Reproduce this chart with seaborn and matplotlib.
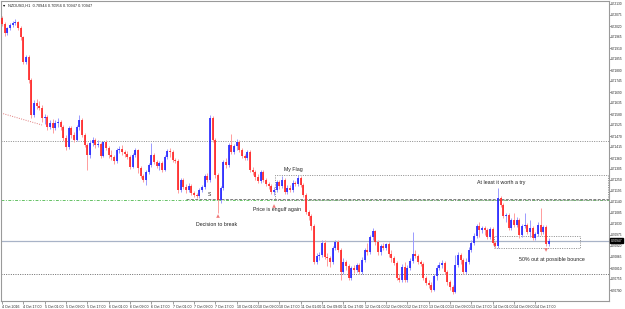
import numpy as np
import pandas as pd
import matplotlib
matplotlib.use("Agg")
import matplotlib.pyplot as plt
import matplotlib.transforms as mtransforms
from matplotlib.patches import Rectangle
import seaborn as sns

# ---------------- data (NZDUSD, H1) ----------------
open0 = 0.72060
closes = [
    0.72030, 0.71985, 0.72010, 0.72025, 0.72035, 0.72040, 0.72010, 0.71965, 0.71840, 0.71865,
    0.71750, 0.71575, 0.71635, 0.71620, 0.71610, 0.71560, 0.71565, 0.71515, 0.71535, 0.71510,
    0.71535, 0.71540, 0.71515, 0.71460, 0.71415, 0.71510, 0.71475, 0.71450, 0.71515, 0.71550,
    0.71475, 0.71425, 0.71375, 0.71435, 0.71450, 0.71425, 0.71430, 0.71370, 0.71440, 0.71410,
    0.71375, 0.71365, 0.71345, 0.71400, 0.71405, 0.71390, 0.71380, 0.71365, 0.71315, 0.71375,
    0.71400, 0.71310, 0.71270, 0.71250, 0.71290, 0.71325, 0.71375, 0.71340, 0.71320, 0.71335,
    0.71300, 0.71365, 0.71395, 0.71390, 0.71350, 0.71345, 0.71200, 0.71250, 0.71215, 0.71200,
    0.71220, 0.71185, 0.71175, 0.71170, 0.71200, 0.71215, 0.71270, 0.71250, 0.71560, 0.71450,
    0.71275, 0.71150, 0.71210, 0.71340, 0.71325, 0.71425, 0.71390, 0.71420, 0.71440, 0.71400,
    0.71370, 0.71360, 0.71390, 0.71300, 0.71290, 0.71265, 0.71245, 0.71290, 0.71250, 0.71230,
    0.71220, 0.71190, 0.71200, 0.71240, 0.71220, 0.71250, 0.71190, 0.71210, 0.71200, 0.71235,
    0.71230, 0.71260, 0.71225, 0.71175, 0.71090, 0.71070, 0.71020, 0.70840, 0.70870, 0.70875,
    0.70935, 0.70865, 0.70860, 0.70840, 0.70910, 0.70940, 0.70900, 0.70790, 0.70840, 0.70820,
    0.70760, 0.70810, 0.70800, 0.70825, 0.70790, 0.70850, 0.70900, 0.70890, 0.70965, 0.70995,
    0.70940, 0.70890, 0.70920, 0.70910, 0.70930, 0.70880, 0.70860, 0.70835, 0.70760, 0.70750,
    0.70815, 0.70750, 0.70810, 0.70845, 0.70880, 0.70870, 0.70840, 0.70830, 0.70760, 0.70735,
    0.70725, 0.70700, 0.70770, 0.70810, 0.70825, 0.70835, 0.70790, 0.70740, 0.70715, 0.70690,
    0.70825, 0.70875, 0.70850, 0.70790, 0.70840, 0.70900, 0.70935, 0.70970, 0.71020, 0.71000,
    0.71010, 0.71000, 0.70965, 0.71005, 0.70935, 0.70920, 0.71160, 0.71125, 0.71070, 0.71075,
    0.71010, 0.71050, 0.71025, 0.71050, 0.70975, 0.71020, 0.71025, 0.70990, 0.71010, 0.70960,
    0.70980, 0.71025, 0.70990, 0.71015, 0.70930, 0.70947,
]
highs = [
    0.72070, 0.72040, 0.72015, 0.72035, 0.72045, 0.72055, 0.72045, 0.72020, 0.71970, 0.71875,
    0.71875, 0.71760, 0.71650, 0.71655, 0.71645, 0.71625, 0.71580, 0.71575, 0.71550, 0.71555,
    0.71550, 0.71560, 0.71550, 0.71525, 0.71475, 0.71520, 0.71520, 0.71490, 0.71525, 0.71575,
    0.71560, 0.71485, 0.71435, 0.71450, 0.71465, 0.71460, 0.71450, 0.71440, 0.71445, 0.71450,
    0.71420, 0.71400, 0.71375, 0.71410, 0.71420, 0.71425, 0.71400, 0.71395, 0.71375, 0.71385,
    0.71410, 0.71405, 0.71320, 0.71280, 0.71300, 0.71335, 0.71435, 0.71385, 0.71350, 0.71345,
    0.71345, 0.71375, 0.71405, 0.71410, 0.71400, 0.71360, 0.71355, 0.71260, 0.71260, 0.71230,
    0.71235, 0.71230, 0.71195, 0.71185, 0.71210, 0.71225, 0.71280, 0.71285, 0.71575, 0.71570,
    0.71460, 0.71285, 0.71220, 0.71350, 0.71360, 0.71435, 0.71480, 0.71430, 0.71455, 0.71450,
    0.71410, 0.71380, 0.71400, 0.71400, 0.71315, 0.71300, 0.71280, 0.71300, 0.71300, 0.71260,
    0.71240, 0.71230, 0.71215, 0.71250, 0.71250, 0.71270, 0.71260, 0.71225, 0.71225, 0.71250,
    0.71245, 0.71275, 0.71270, 0.71235, 0.71185, 0.71100, 0.71080, 0.71030, 0.70885, 0.70890,
    0.70950, 0.70950, 0.70885, 0.70870, 0.70920, 0.70950, 0.70950, 0.70910, 0.70860, 0.70850,
    0.70830, 0.70820, 0.70825, 0.70835, 0.70835, 0.70865, 0.70910, 0.70935, 0.70975, 0.71010,
    0.71000, 0.70950, 0.70930, 0.70935, 0.70935, 0.70940, 0.70900, 0.70870, 0.70845, 0.70780,
    0.70830, 0.70840, 0.70825, 0.70860, 0.70990, 0.70900, 0.70880, 0.70850, 0.70840, 0.70770,
    0.70750, 0.70740, 0.70780, 0.70825, 0.70840, 0.70850, 0.70845, 0.70800, 0.70750, 0.70725,
    0.70875, 0.70890, 0.70885, 0.70860, 0.70860, 0.70915, 0.70950, 0.70985, 0.71030, 0.71040,
    0.71020, 0.71020, 0.71010, 0.71015, 0.71015, 0.70945, 0.71210, 0.71170, 0.71135, 0.71085,
    0.71085, 0.71060, 0.71085, 0.71065, 0.71060, 0.71030, 0.71085, 0.71035, 0.71050, 0.71020,
    0.70990, 0.71040, 0.71110, 0.71025, 0.71025, 0.70960,
]
lows = [
    0.72020, 0.71970, 0.71975, 0.72000, 0.72015, 0.72025, 0.72000, 0.71950, 0.71830, 0.71830,
    0.71735, 0.71560, 0.71565, 0.71605, 0.71600, 0.71540, 0.71530, 0.71500, 0.71505, 0.71485,
    0.71500, 0.71515, 0.71500, 0.71445, 0.71400, 0.71405, 0.71460, 0.71440, 0.71445, 0.71500,
    0.71465, 0.71415, 0.71300, 0.71360, 0.71420, 0.71410, 0.71415, 0.71360, 0.71365, 0.71400,
    0.71360, 0.71350, 0.71330, 0.71335, 0.71385, 0.71375, 0.71365, 0.71355, 0.71305, 0.71310,
    0.71365, 0.71285, 0.71260, 0.71240, 0.71225, 0.71280, 0.71315, 0.71330, 0.71310, 0.71300,
    0.71290, 0.71295, 0.71355, 0.71365, 0.71340, 0.71335, 0.71185, 0.71190, 0.71205, 0.71185,
    0.71190, 0.71175, 0.71165, 0.71160, 0.71160, 0.71190, 0.71205, 0.71240, 0.71240, 0.71440,
    0.71260, 0.71085, 0.71135, 0.71200, 0.71310, 0.71315, 0.71380, 0.71380, 0.71400, 0.71390,
    0.71360, 0.71350, 0.71350, 0.71290, 0.71275, 0.71250, 0.71235, 0.71235, 0.71240, 0.71220,
    0.71205, 0.71180, 0.71175, 0.71190, 0.71205, 0.71210, 0.71180, 0.71180, 0.71190, 0.71190,
    0.71220, 0.71220, 0.71215, 0.71165, 0.71080, 0.71050, 0.71000, 0.70830, 0.70830, 0.70850,
    0.70865, 0.70855, 0.70820, 0.70815, 0.70830, 0.70900, 0.70890, 0.70750, 0.70780, 0.70800,
    0.70750, 0.70750, 0.70785, 0.70790, 0.70780, 0.70780, 0.70840, 0.70875, 0.70880, 0.70950,
    0.70925, 0.70875, 0.70875, 0.70900, 0.70900, 0.70865, 0.70840, 0.70825, 0.70750, 0.70740,
    0.70740, 0.70740, 0.70740, 0.70800, 0.70835, 0.70860, 0.70830, 0.70820, 0.70750, 0.70725,
    0.70710, 0.70690, 0.70695, 0.70750, 0.70800, 0.70810, 0.70780, 0.70725, 0.70700, 0.70680,
    0.70685, 0.70815, 0.70830, 0.70780, 0.70780, 0.70830, 0.70890, 0.70925, 0.70960, 0.70965,
    0.70985, 0.70975, 0.70955, 0.70955, 0.70925, 0.70910, 0.70910, 0.71115, 0.71060, 0.71040,
    0.71000, 0.71000, 0.71015, 0.71015, 0.70960, 0.70965, 0.71010, 0.70980, 0.70965, 0.70950,
    0.70950, 0.70970, 0.70975, 0.70980, 0.70920, 0.70920,
]

date_labels = [
    "4 Oct 2016", "4 Oct 17:00", "5 Oct 01:00", "5 Oct 09:00", "5 Oct 17:00",
    "6 Oct 01:00", "6 Oct 09:00", "6 Oct 17:00", "7 Oct 01:00", "7 Oct 09:00",
    "7 Oct 17:00", "10 Oct 01:00", "10 Oct 09:00", "10 Oct 17:00", "11 Oct 01:00",
    "11 Oct 09:00", "11 Oct 17:00", "12 Oct 01:00", "12 Oct 09:00", "12 Oct 17:00",
    "13 Oct 01:00", "13 Oct 09:00", "13 Oct 17:00", "14 Oct 01:00", "14 Oct 09:00",
    "14 Oct 17:00",
]
date_label_bars = list(range(0, 208, 8))

price_ticks = [
    0.72130, 0.72075, 0.72020, 0.71965, 0.71910, 0.71855, 0.71800, 0.71745, 0.71690,
    0.71635, 0.71580, 0.71525, 0.71470, 0.71415, 0.71360, 0.71305, 0.71250, 0.71195,
    0.71140, 0.71085, 0.71030, 0.70975, 0.70920, 0.70865, 0.70810, 0.70755, 0.70700,
]

current_price = 0.70947
header = "NZDUSD,H1  0.70944 0.70956 0.70947 0.70947"

# horizontal levels
resistance = 0.71445
support = 0.70780
green_level = 0.71150
gray_level = 0.71155
gray_level_start = 69
trend_bars = [-0.4, 15]
trend_prices = [0.71585, 0.71525]
flag_box = (102.4, 0.71150, 0.71275)      # left bar, bottom, top
bounce_box = (184.5, 216.7, 0.70910, 0.70970)

annot_text = ["Decision to break", "Price is engulf again", "My Flag",
              "At least it worth a try", "50% out at possible bounce", "S"]
annot_bar = [80.6, 103.0, 109.3, 187.0, 206.0, 77.6]
annot_price = [0.71025, 0.71100, 0.71305, 0.71235, 0.70855, 0.71180]

arrow_bar = [81, 102, 204]
arrow_price = [0.71070, 0.71120, 0.70900]
arrow_kind = ["up", "up", "down"]

# ---------------- build ----------------
sns.set_theme(style="white")
plt.rcParams["font.family"] = ["Liberation Sans", "DejaVu Sans"]

df = pd.DataFrame({"close": closes, "high": highs, "low": lows})
df["open"] = [open0] + closes[:-1]
df["bar"] = np.arange(len(df))
bull = df["close"] >= df["open"]

fig = plt.figure(figsize=(6.25, 3.09), dpi=100)
fig.patch.set_facecolor("white")
ax = fig.add_axes([1 / 625, 8 / 309, 608 / 625, 300 / 309])
ax.set_facecolor("white")

XMIN, XMAX = -0.375, 227.6
ax.set_xlim(XMIN, XMAX)
ax.set_ylim(0.70645, 0.72145)

# levels
ax.axhline(resistance, color="#8a8a8a", lw=0.7, ls=(0, (1, 1.4)), zorder=1)
ax.axhline(support, color="#6a6a6a", lw=0.7, ls=(0, (1, 1.4)), zorder=1)
ax.axhline(green_level, color="#66c266", lw=0.7, ls=(0, (3, 1.5, 1, 1.5)), zorder=1)
ax.hlines(gray_level, gray_level_start, XMAX, color="#808080", lw=0.7,
          ls=(0, (3, 1.5)), zorder=1)
ax.axhline(current_price, color="#a8b3c7", lw=0.9, zorder=1)
ax.plot(trend_bars, trend_prices, color="#e07a7a", lw=0.7, ls=(0, (1, 1.4)), zorder=1)

fl, fb, ft = flag_box
ax.add_patch(Rectangle((fl, fb), XMAX - 0.4 - fl, ft - fb, fill=False,
                       ec="#8a8a8a", lw=0.7, ls=(0, (1, 1.4)), zorder=1))
bl, br, bb, bt = bounce_box
ax.add_patch(Rectangle((bl, bb), br - bl, bt - bb, fill=False,
                       ec="#8a8a8a", lw=0.7, ls=(0, (1, 1.4)), zorder=1))

# candles: wicks then bodies
ax.vlines(df["bar"][bull], df["low"][bull], df["high"][bull], color="#9a9aff", lw=0.7, zorder=2)
ax.vlines(df["bar"][~bull], df["low"][~bull], df["high"][~bull], color="#ff9c9c", lw=0.7, zorder=2)
ax.vlines(df["bar"][bull], df["open"][bull], df["close"][bull], color="#2020ff", lw=1.2, zorder=3)
ax.vlines(df["bar"][~bull], df["open"][~bull], df["close"][~bull], color="#ff2020", lw=1.2, zorder=3)

# arrows
arr = pd.DataFrame({"bar": arrow_bar, "price": arrow_price, "kind": arrow_kind})
sns.scatterplot(data=arr, x="bar", y="price", style="kind", markers={"up": "^", "down": "v"},
                color="#f07878", s=7, linewidth=0, legend=False, ax=ax, zorder=4)

# annotations
for t, b, p in zip(annot_text, annot_bar, annot_price):
    ax.text(b, p, t, fontsize=3.8 if t != "S" else 3.6, color="#222222",
            ha="center", va="center", zorder=5)

# header
ax.text(0.003, 0.985, "\u25be", transform=ax.transAxes, fontsize=3.2, color="black",
        ha="left", va="center", family=["DejaVu Sans"])
ax.text(0.012, 0.985, header, transform=ax.transAxes, fontsize=2.8, color="#222222",
        ha="left", va="center")

# axes styling
for s in ax.spines.values():
    s.set_color("#9a9a9a")
    s.set_linewidth(0.8)

ax.yaxis.tick_right()
ax.set_yticks(price_ticks)
ax.set_yticklabels([f"{v:.5f}" for v in price_ticks])
ax.tick_params(axis="y", right=True, length=1.2, width=0.5, color="#777777",
               labelsize=2.35, pad=0.5, labelcolor="#222222")
ax.set_xticks(date_label_bars)
ax.set_xticklabels(date_labels)
for lab in ax.get_xticklabels():
    lab.set_horizontalalignment("left")
ax.tick_params(axis="x", bottom=True, length=1.8, width=0.5, color="#777777",
               labelsize=2.6, pad=0.8, labelcolor="#222222")
ax.set_xlabel("")
ax.set_ylabel("")
ax.grid(False)

# current price tag
trans = mtransforms.blended_transform_factory(ax.transAxes, ax.transData)
ax.text(1.003, current_price, f"{current_price:.5f}", transform=trans, fontsize=2.35,
        color="white", ha="left", va="center", zorder=6,
        bbox=dict(boxstyle="square,pad=0.12", fc="black", ec="black"))

fig.savefig("out.png", dpi=100, facecolor="white")
